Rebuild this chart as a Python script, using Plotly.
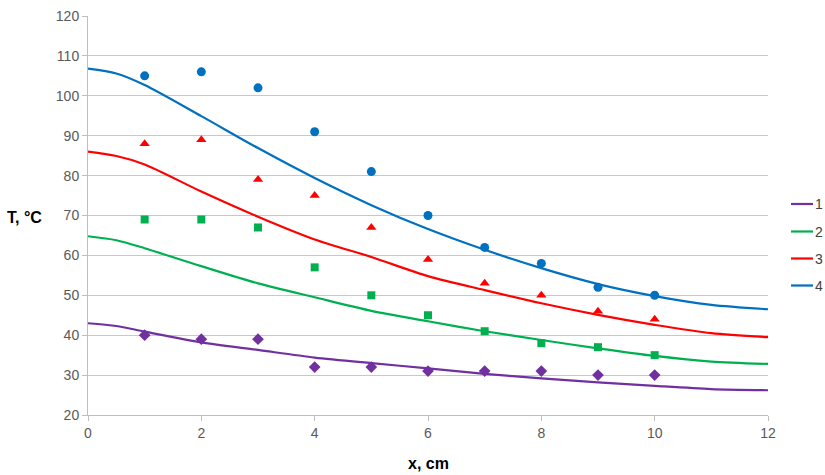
import plotly.graph_objects as go

# measured points
x_pts = [1, 2, 3, 4, 5, 6, 7, 8, 9, 10]
pts_1 = [40, 39, 39, 32, 32, 31, 31, 31, 30, 30]
pts_2 = [69, 69, 67, 57, 50, 45, 41, 38, 37, 35]
pts_3 = [88, 89, 79, 75, 67, 59, 53, 50, 46, 44]
pts_4 = [105, 106, 102, 91, 81, 70, 62, 58, 52, 50]

# calculated curves
x_line = [0, 0.5, 1, 2, 3, 4, 5, 6, 7, 8, 9, 10, 11, 12]
line_1 = [43.0, 42.3, 40.9, 38.2, 36.3, 34.4, 33.0, 31.7, 30.3, 29.2, 28.2, 27.3, 26.5, 26.2]
line_2 = [64.8, 63.8, 61.8, 57.3, 53.0, 49.5, 46.1, 43.5, 41.0, 38.8, 36.7, 34.8, 33.4, 32.8]
line_3 = [86.0, 84.9, 82.8, 76.0, 69.7, 64.0, 59.6, 54.8, 51.3, 48.0, 45.1, 42.6, 40.5, 39.5]
line_4 = [106.8, 105.6, 102.7, 94.9, 86.9, 79.4, 72.6, 66.6, 61.4, 56.8, 52.8, 49.8, 47.6, 46.5]

names = ["1", "2", "3", "4"]
colors = ["#7030A0", "#00B050", "#FF0000", "#0070C0"]
symbols = ["diamond", "square", "triangle-up", "circle"]
sizes = [9, 8, 9, 9]

W, H = 825, 475
L, R, T, B = 88, 768, 16, 415

fig = go.Figure()
lines = [line_1, line_2, line_3, line_4]
pts = [pts_1, pts_2, pts_3, pts_4]
for i in range(4):
    fig.add_trace(go.Scatter(
        x=x_line, y=lines[i], mode="lines", name=names[i],
        line=dict(color=colors[i], width=2.2, shape="spline", smoothing=0.8),
        showlegend=False))
for i in range(4):
    fig.add_trace(go.Scatter(
        x=x_pts, y=pts[i], mode="markers", name=names[i] + " exp",
        marker=dict(color=colors[i], symbol=symbols[i], size=sizes[i]),
        showlegend=False))

FONT = "Liberation Sans, Arial, sans-serif"
tick_font = dict(family=FONT, size=14, color="#595959")

# manual legend (lines 1..4)
leg_y = [204, 231.5, 258.5, 285.5]
shapes = []
annotations = []
for i in range(4):
    yy = 1 - leg_y[i] / H
    shapes.append(dict(type="line", xref="paper", yref="paper",
                       x0=791 / W, x1=813 / W, y0=yy, y1=yy,
                       line=dict(color=colors[i], width=2.2)))
    annotations.append(dict(text=names[i], xref="paper", yref="paper",
                            x=814 / W, y=yy, xanchor="left", yanchor="middle",
                            showarrow=False, borderpad=0,
                            font=dict(family=FONT, size=14, color="#404040")))

annotations += [
    dict(text="<b>T, °C</b>", xref="paper", yref="paper",
         x=24 / W, y=1 - 217 / H, xanchor="center", yanchor="middle", showarrow=False,
         font=dict(family=FONT, size=16, color="#000000")),
    dict(text="<b>x, cm</b>", xref="paper", yref="paper",
         x=428 / W, y=1 - 463 / H, xanchor="center", yanchor="middle", showarrow=False,
         font=dict(family=FONT, size=16, color="#000000")),
]

fig.update_layout(
    width=W, height=H,
    margin=dict(l=0, r=0, t=0, b=0, autoexpand=False),
    paper_bgcolor="white", plot_bgcolor="white",
    showlegend=False,
    xaxis=dict(domain=[L / W, R / W], range=[0, 12], tickmode="linear", tick0=0, dtick=2,
               showgrid=False, zeroline=False, automargin=False,
               showline=True, linecolor="#BFBFBF", linewidth=1,
               ticks="outside", ticklen=5, tickcolor="#BFBFBF",
               tickfont=tick_font),
    yaxis=dict(domain=[1 - B / H, 1 - T / H], range=[20, 120], tickmode="linear", tick0=20, dtick=10,
               showgrid=True, gridcolor="#C8C8C8", gridwidth=1, zeroline=False, automargin=False,
               showline=True, linecolor="#BFBFBF", linewidth=1,
               ticks="outside", ticklen=5, tickcolor="#BFBFBF",
               tickfont=tick_font),
    shapes=shapes,
    annotations=annotations,
)

fig.write_html("out.html", config={"displayModeBar": False},
               post_script="document.body.style.margin='0';document.body.style.overflow='hidden';")
